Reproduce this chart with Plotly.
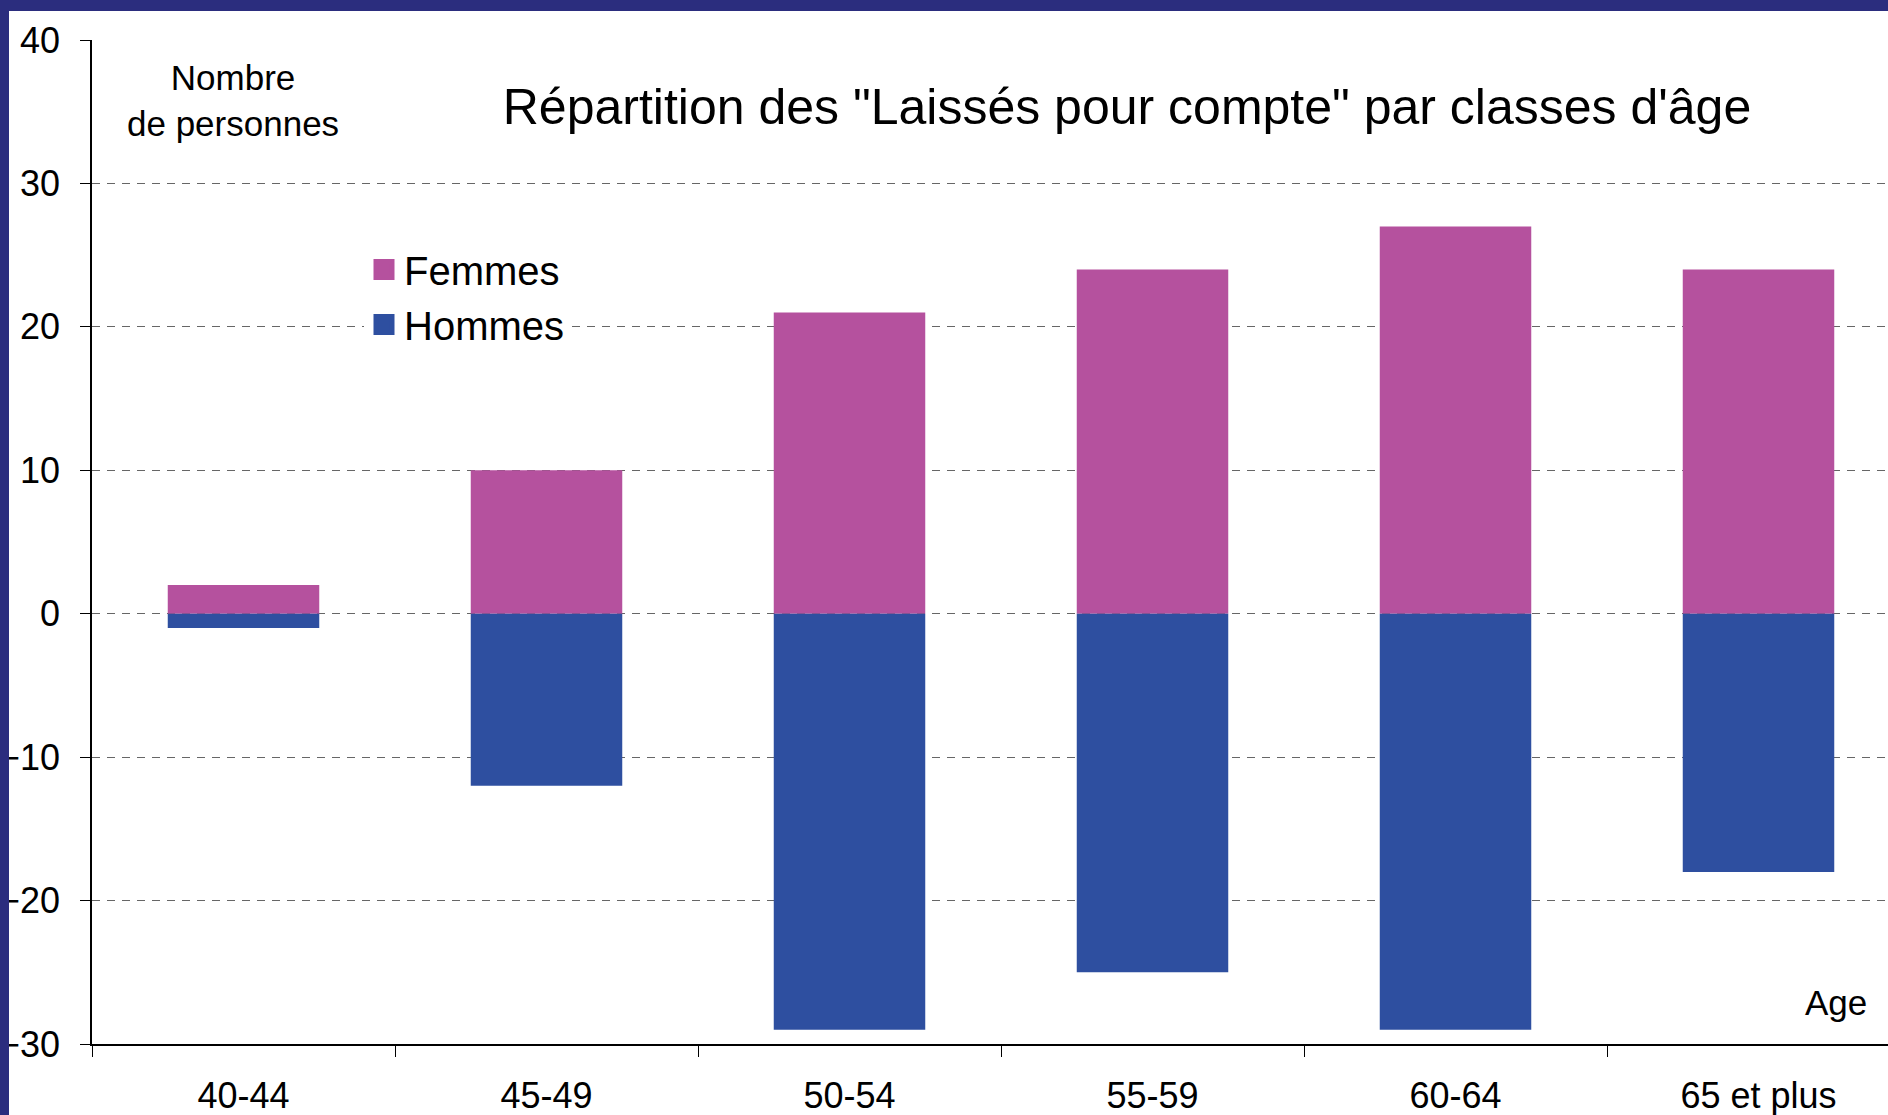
import plotly.graph_objects as go

categories = ["40-44", "45-49", "50-54", "55-59", "60-64", "65 et plus"]
femmes = [2, 10, 21, 24, 27, 24]
hommes = [-1, -12, -29, -25, -29, -18]
y_ticks = [-30, -20, -10, 0, 10, 20, 30, 40]

W, H = 1888, 1115
L, R, T, B = 92, 0, 40, 71
PW, PH = W - L - R, H - T - B

def px_x(x):
    return (x - L) / PW

def px_y(y):
    return (H - B - y) / PH

FONT = "Liberation Sans, Arial, sans-serif"
NAVY = "#2B2D7E"
C_F = "#B5519E"
C_H = "#2E4FA0"

fig = go.Figure()
fig.add_trace(go.Bar(x=categories, y=femmes, name="Femmes", marker_color=C_F,
                     marker_line_width=0, width=0.5, legendgroup="f", showlegend=False))
fig.add_trace(go.Bar(x=categories, y=hommes, name="Hommes", marker_color=C_H,
                     marker_line_width=0, width=0.5, legendgroup="h", showlegend=False))
# legend entries (large square swatches, linked to the bars by legendgroup)
for name, col, grp in [("Femmes", C_F, "f"), ("Hommes", C_H, "h")]:
    fig.add_trace(go.Scatter(x=[None], y=[None], mode="markers", name=name, legendgroup=grp,
                             marker=dict(symbol="square", size=16, color=col,
                                         line=dict(width=5, color=col)),
                             hoverinfo="skip"))

fig.update_layout(
    width=W, height=H,
    margin=dict(l=L, r=R, t=T, b=B, pad=0, autoexpand=False),
    barmode="relative",
    paper_bgcolor="white", plot_bgcolor="white",
    font=dict(family=FONT, size=36, color="black"),
    title=dict(text='Répartition des "Laissés pour compte" par classes d\'âge',
               x=px_x(1127), xref="paper", xanchor="center",
               y=1 - 106 / H, yref="container", yanchor="middle",
               font=dict(size=50, family=FONT, color="black")),
    showlegend=True,
    legend=dict(x=px_x(364), y=px_y(237), xanchor="left", yanchor="top",
                bgcolor="white", font=dict(size=40, family=FONT),
                tracegroupgap=2, traceorder="normal", itemsizing="trace"),
    xaxis=dict(range=[-0.5, (W - L) / 303 - 0.5], type="category", automargin=False,
               tickson="boundaries", ticks="outside", ticklen=11, tickcolor="black",
               showline=True, linecolor="black", linewidth=1.5, showgrid=False,
               ticklabelstandoff=19, tickfont=dict(size=36)),
    yaxis=dict(range=[-30, 40], tickvals=y_ticks, ticks="outside", ticklen=10, automargin=False,
               tickcolor="black", showline=True, linecolor="black", linewidth=1.5,
               showgrid=True, gridcolor="#666666", gridwidth=1, griddash="8px,7px",
               zeroline=False, ticklabelstandoff=13, tickfont=dict(size=36)),
    annotations=[
        dict(text="Nombre<br>de personnes", x=px_x(233), y=px_y(101), xref="paper", yref="paper",
             showarrow=False, xanchor="center", yanchor="middle", font=dict(size=35)),
        dict(text="Age", x=px_x(1836), y=px_y(1002), xref="paper", yref="paper",
             showarrow=False, xanchor="center", yanchor="middle", font=dict(size=35)),
    ],
    shapes=[
        dict(type="rect", xref="paper", yref="paper", x0=px_x(0), x1=px_x(9),
             y0=px_y(H), y1=px_y(0), fillcolor=NAVY, line_width=0, layer="above"),
        dict(type="rect", xref="paper", yref="paper", x0=px_x(0), x1=px_x(W),
             y0=px_y(11), y1=px_y(0), fillcolor=NAVY, line_width=0, layer="above"),
    ],
)

fig.write_html("out.html", config={"displayModeBar": False},
               post_script="document.body.style.margin='0';")
